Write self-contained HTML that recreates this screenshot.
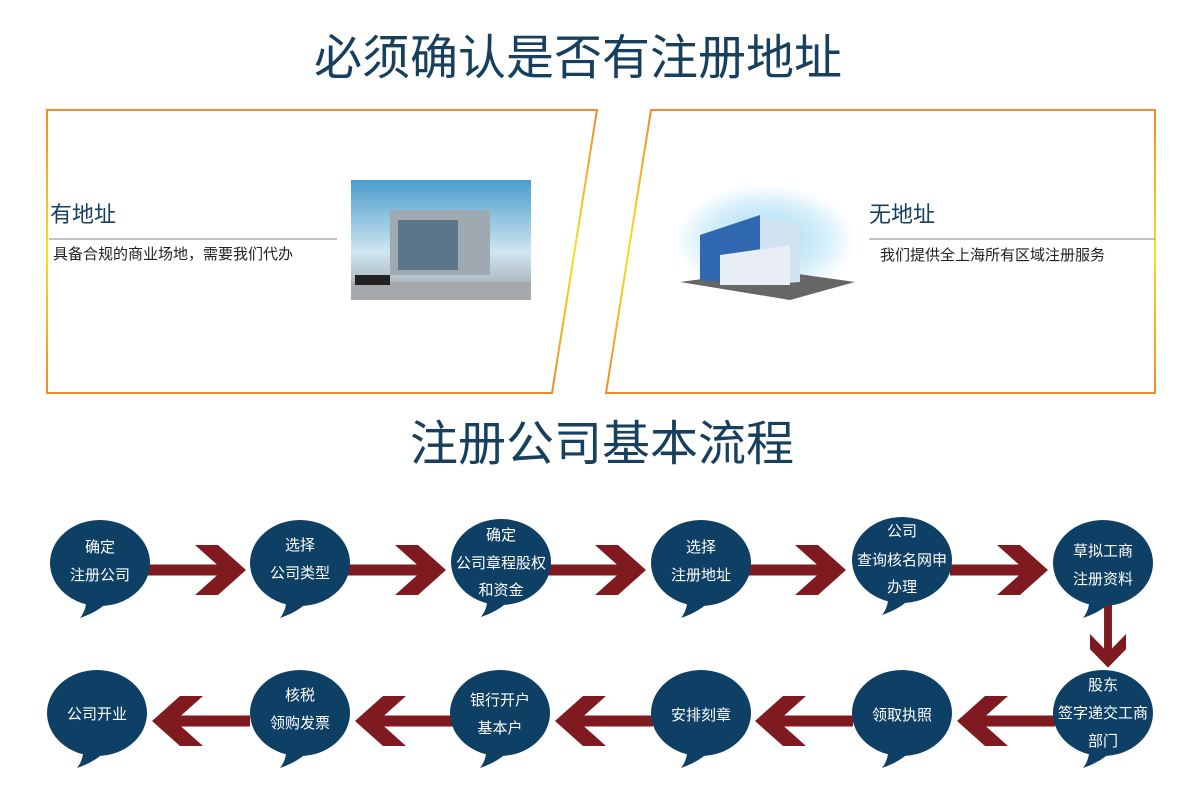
<!DOCTYPE html>
<html><head><meta charset="utf-8"><style>
html,body{margin:0;padding:0;background:#fff;}
svg{display:block;}
text{font-family:"Liberation Sans","Noto Sans CJK SC",sans-serif;}
</style></head><body>
<svg width="1200" height="808" viewBox="0 0 1200 808" xmlns="http://www.w3.org/2000/svg">
<defs>
<linearGradient id="gl" x1="0" y1="0" x2="0" y2="1">
<stop offset="0" stop-color="#f08a2a"/><stop offset="0.5" stop-color="#f5e020"/><stop offset="1" stop-color="#f08a2a"/>
</linearGradient>
<linearGradient id="sky" x1="0" y1="0" x2="0" y2="1">
<stop offset="0" stop-color="#4a9ccc"/><stop offset="0.6" stop-color="#cfe6f2"/><stop offset="1" stop-color="#9aa0a4"/>
</linearGradient>
<radialGradient id="halo" cx="0.5" cy="0.5" r="0.5">
<stop offset="0" stop-color="#9fd8f0"/><stop offset="0.7" stop-color="#d8f0fa"/><stop offset="1" stop-color="#fff"/>
</radialGradient>
<g id="bub"><ellipse cx="0" cy="0" rx="50" ry="43" fill="#0e3f64"/><path d="M-14,30 Q-12,45 -20,55 Q0,48 8,38 Z" fill="#0e3f64"/></g>
<g id="ar"><rect x="0" y="-5.5" width="80" height="11" fill="#7f1a20"/><polygon points="47,-25 70,-25 98,0 70,25 47,25 75,0" fill="#7f1a20"/></g>
</defs>

<text x="578" y="74" font-size="48" fill="#17405f" text-anchor="middle">必须确认是否有注册地址</text>

<polygon points="47,110 597,110 552,393 47,393" fill="none" stroke="url(#gl)" stroke-width="2"/>
<text x="50" y="222" font-size="22" fill="#17405f">有地址</text>
<line x1="49" y1="239" x2="337" y2="239" stroke="#888" stroke-width="1"/>
<text x="53" y="259" font-size="15" fill="#222">具备合规的商业场地，需要我们代办</text>
<rect x="351" y="180" width="180" height="120" fill="url(#sky)"/>
<rect x="390" y="210" width="100" height="65" fill="#9ea9b1"/>
<rect x="398" y="220" width="60" height="50" fill="#5d7588"/>
<rect x="351" y="282" width="180" height="18" fill="#a6a9ab"/>
<rect x="355" y="275" width="35" height="10" fill="#222"/>

<polygon points="651,110 1155,110 1155,393 606,393" fill="none" stroke="url(#gl)" stroke-width="2"/>
<ellipse cx="765" cy="240" rx="90" ry="55" fill="url(#halo)"/>
<polygon points="680,282 770,270 855,282 790,300" fill="#666"/>
<polygon points="700,235 760,215 760,285 700,280" fill="#2f67b0"/>
<polygon points="760,215 800,225 800,282 760,285" fill="#cfe4f0"/>
<polygon points="720,255 790,245 790,285 720,285" fill="#e8eef3"/>
<text x="869" y="222" font-size="22" fill="#17405f">无地址</text>
<line x1="869" y1="239" x2="1155" y2="239" stroke="#888" stroke-width="1"/>
<text x="880" y="260" font-size="15" fill="#222">我们提供全上海所有区域注册服务</text>

<text x="602" y="460" font-size="48" fill="#17405f" text-anchor="middle">注册公司基本流程</text>

<use href="#ar" transform="translate(148,570)"/>
<use href="#ar" transform="translate(348,570)"/>
<use href="#ar" transform="translate(548,570)"/>
<use href="#ar" transform="translate(748,570)"/>
<use href="#ar" transform="translate(950,570)"/>
<use href="#ar" transform="translate(1108,603) rotate(90) scale(0.66,0.72)"/>
<use href="#ar" transform="translate(1055,721) scale(-1,1)"/>
<use href="#ar" transform="translate(853,721) scale(-1,1)"/>
<use href="#ar" transform="translate(653,721) scale(-1,1)"/>
<use href="#ar" transform="translate(453,721) scale(-1,1)"/>
<use href="#ar" transform="translate(250,721) scale(-1,1)"/>

<g font-size="15" fill="#fff" text-anchor="middle">
<use href="#bub" transform="translate(100,563)"/>
<text x="100" y="552">确定</text><text x="100" y="580">注册公司</text>
<use href="#bub" transform="translate(300,563)"/>
<text x="300" y="550">选择</text><text x="300" y="578">公司类型</text>
<use href="#bub" transform="translate(501,562)"/>
<text x="501" y="540">确定</text><text x="501" y="568">公司章程股权</text><text x="501" y="595">和资金</text>
<use href="#bub" transform="translate(701,563)"/>
<text x="701" y="552">选择</text><text x="701" y="580">注册地址</text>
<use href="#bub" transform="translate(902,560)"/>
<text x="902" y="536">公司</text><text x="902" y="565">查询核名网申</text><text x="902" y="592">办理</text>
<use href="#bub" transform="translate(1103,563)"/>
<text x="1103" y="556">草拟工商</text><text x="1103" y="584">注册资料</text>

<use href="#bub" transform="translate(1103,713)"/>
<text x="1103" y="690">股东</text><text x="1103" y="718">签字递交工商</text><text x="1103" y="746">部门</text>
<use href="#bub" transform="translate(902,713)"/>
<text x="902" y="720">领取执照</text>
<use href="#bub" transform="translate(701,713)"/>
<text x="701" y="720">安排刻章</text>
<use href="#bub" transform="translate(500,713)"/>
<text x="500" y="705">银行开户</text><text x="500" y="733">基本户</text>
<use href="#bub" transform="translate(300,713)"/>
<text x="300" y="700">核税</text><text x="300" y="728">领购发票</text>
<use href="#bub" transform="translate(97,713)"/>
<text x="97" y="719">公司开业</text>
</g>
</svg>
</body></html>
